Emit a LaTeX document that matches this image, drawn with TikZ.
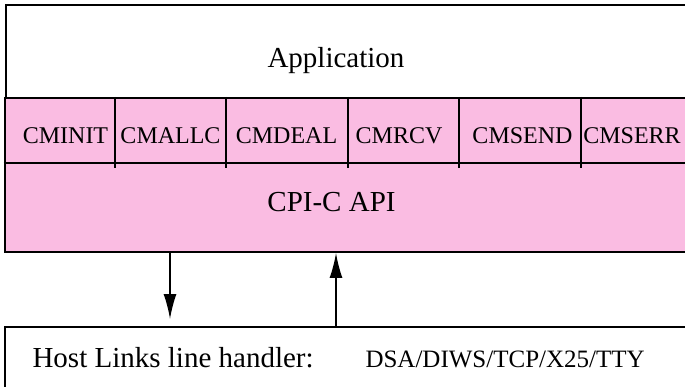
\documentclass[tikz,border=0pt]{standalone}
\usepackage{fontspec}
\setmainfont{Liberation Serif}
\usetikzlibrary{arrows.meta}
\definecolor{apipink}{RGB}{250,188,226}

\begin{document}
\begin{tikzpicture}[x=1pt, y=-1pt,
    box/.style={draw, line width=2pt, inner sep=0pt, anchor=north west},
    fn/.style={anchor=base, font=\fontsize{24}{28}\selectfont},
    big/.style={anchor=base, font=\fontsize{29}{34}\selectfont},
    arr/.style={line width=1.5pt, -{Latex[length=25pt, width=13pt]}}]
  \useasboundingbox (0, 0) rectangle (685, 387);
  \def\rowy{163}
  % application layer
  \node [box, minimum width=700pt, minimum height=92.5pt] (app) at (4.5, 4.5) {};
  \node [big] (apptext) at (336, 68) {Application};
  % CPI-C layer
  \node [box, fill=apipink, minimum width=700pt, minimum height=154pt] (api) at (3.5, 97) {};
  \draw [line width=1.5pt] (api.west |- 0, \rowy) -- (690, \rowy);
  \foreach \x in {115, 226, 348, 459, 581}
    \draw [line width=1.5pt] (\x, 97) -- (\x, \rowy + 5);
  \foreach \x/\t in {65.5/CMINIT, 170.5/CMALLC, 286.5/CMDEAL, 399/CMRCV, 522.5/CMSEND, 632/CMSERR}
    \node [fn] (\t) at (\x, 144) {\t};
  \node [big] (apitext) at (331.5, 212) {CPI-C API};
  % line handler
  \node [box, minimum width=700pt, minimum height=80pt] (links) at (3.5, 326) {};
  \node [big, anchor=base west] (linkstext) at (29, 367) {Host Links line handler:};
  \node [anchor=base west, font=\fontsize{25}{30}\selectfont] (proto) at (362, 367) {DSA/DIWS/TCP/X25/TTY};
  % calls
  \coordinate (dn) at (170, 0);
  \coordinate (up) at (336, 0);
  \draw [arr] (api.south -| dn) -- ([yshift=7pt] links.north -| dn);
  \draw [arr] (links.north -| up) -- (api.south -| up);
\end{tikzpicture}
\end{document}
